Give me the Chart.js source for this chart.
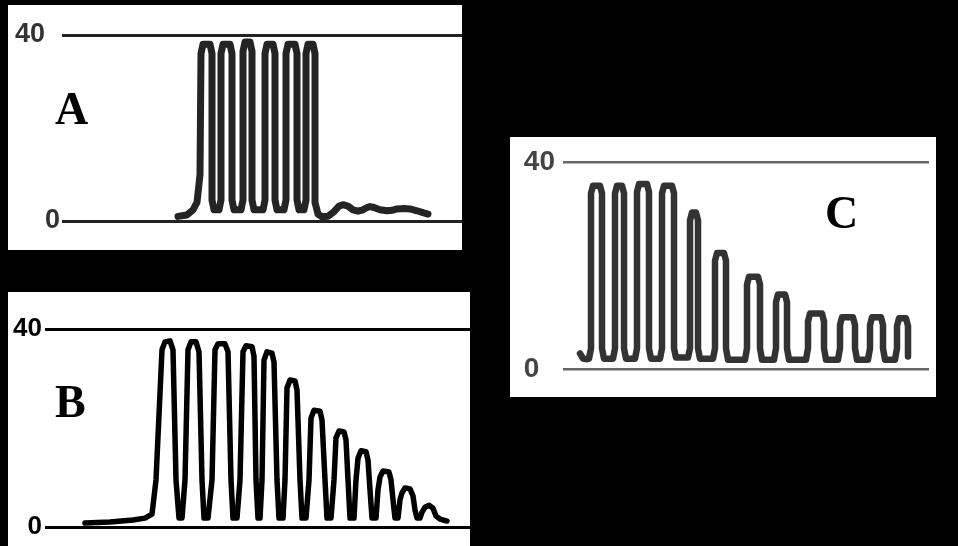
<!DOCTYPE html>
<html>
<head>
<meta charset="utf-8">
<script src="https://cdn.jsdelivr.net/npm/chart.js@4.4.1/dist/chart.umd.min.js"></script>
<style>
  html, body { margin:0; padding:0; background:#000; }
  body { width:958px; height:546px; position:relative; overflow:hidden; }
  .panel { position:absolute; background:#fff; }
  .panel canvas { position:absolute; left:0; top:0; }
  .tag { position:absolute; font-family:'Liberation Serif','Times New Roman',serif; font-weight:bold; font-size:46px; line-height:46px; color:#000; }
</style>
</head>
<body>
<div class="panel" style="left:8px;top:5px;width:454px;height:245px;"><canvas id="cA" width="454" height="245"></canvas></div>
<div class="panel" style="left:8px;top:292px;width:462px;height:254px;"><canvas id="cB" width="462" height="254"></canvas></div>
<div class="panel" style="left:510px;top:137px;width:426px;height:260px;"><canvas id="cC" width="426" height="260"></canvas></div>
<div class="tag" style="left:55px;top:86px;">A</div>
<div class="tag" style="left:55px;top:379px;">B</div>
<div class="tag" style="left:825px;top:190px;">C</div>
<script>
// ---- data ----
const yTicks = [0, 40];
const yTickLabels = ['0', '40'];

// Panel A (time units, pressure values)
const aTime = [116,125,131,135,
  138,139,141,148,150,150, 152,157,
  159,159,161,168,170,170, 172,179,
  181,181,183,188,190,190, 192,201,
  203,203,205,211,213,213, 215,222,
  224,224,226,233,235,235, 237,242,
  244,244,246,251,253,253,
  256,260,266,272,277,281,286,291,296,301,305,308,312,318,325,330,335,342,348,355,361,366];
const aValue = [1.0,1.3,2.4,4.0,
  10,36,38,38,36,4.5, 2.4,2.4,
  4.5,36,38,38,36,4.5, 2.4,2.4,
  4.5,36.5,38.5,38.5,36.5,4.5, 2.4,2.4,
  4.5,36,38,38,36,4.5, 2.4,2.4,
  4.5,36,38,38,36,4.5, 2.4,2.4,
  4.5,36,38,38,36,4.0,
  1.5,0.9,1.0,2.0,3.2,3.5,3.2,2.4,2.1,2.4,2.9,3.1,2.9,2.4,2.2,2.3,2.6,2.7,2.6,2.2,1.8,1.5];

// Panel B
const bTime = [40,65,88,100,107,
  111,117,120,125,128,131,134,137,
  140,143,146,151,154,157,159,163,
  167,170,173,180,183,186,188,192,
  195,198,201,207,209,211,213,215,
  217,219,222,227,229,232,234,238,
  240,242,245,250,252,255,257,261,
  264,266,269,275,277,280,282,286,
  289,291,294,299,301,303,305,309,
  311,313,316,321,323,325,327,331,
  333,335,338,344,346,348,350,353,
  355,357,360,365,368,370,372,375,
  377,380,384,388,391,395,402];
const bValue = [0.8,1.0,1.4,1.8,2.6,
  9.5,35.8,37.4,37.6,35.8,9.5,1.8,1.8,
  9.5,35.8,37.4,37.4,35.4,9.5,1.8,1.8,
  9.5,35.8,37.0,37.0,35.4,9.5,1.8,1.8,
  9.5,35.4,36.6,36.4,34.5,9.5,1.8,1.8,
  9.5,33.7,35.4,35.1,33.3,9.5,1.8,1.8,
  9.5,28.1,29.7,29.5,27.7,9.5,1.8,1.8,
  9.5,22.0,23.6,23.4,21.6,9.5,1.8,1.8,
  9.5,18.0,19.4,19.2,17.6,9.5,1.8,1.8,
  9.5,13.9,15.4,15.2,13.5,7.5,1.8,1.8,
  7.5,10.1,11.3,11.1,9.5,5.5,1.8,1.8,
  5.5,6.9,7.9,7.7,6.3,3.4,1.8,1.8,
  3.0,4.0,4.4,3.8,2.2,1.6,1.2];

// Panel C
const cTime = [17,20,24,26,
  28,28,30,37,39,39, 41,50,
  52,52,54,59,61,61, 63,72,
  74,74,76,84,86,86, 88,97,
  99,99,101,109,111,111, 113,125,
  127,127,129,133,135,135, 137,150,
  152,152,154,161,163,163, 165,182,
  184,184,186,195,197,197, 199,211,
  213,213,215,222,224,224, 226,243,
  245,245,247,259,261,261, 263,275,
  277,277,279,290,292,292, 294,305,
  307,307,309,318,320,320, 322,332,
  334,334,336,343,345,345];
const cValue = [3.0,2.0,1.9,2.0,
  4,33.9,35.4,35.4,33.9,4, 2.0,2.0,
  4,33.9,35.4,35.4,33.9,4, 2.0,2.0,
  4,34.2,35.7,35.7,34.2,4, 2.0,2.0,
  4,33.9,35.4,35.4,33.9,4, 2.2,2.2,
  4,28.7,30.2,30.2,28.7,4, 2.0,2.0,
  4,20.9,22.4,22.4,20.9,4, 1.8,1.8,
  4,16.3,17.8,17.8,16.3,4, 1.8,1.8,
  4,12.9,14.4,14.4,12.9,4, 1.8,1.8,
  4,9.2,10.7,10.7,9.2,4, 1.8,1.8,
  4,8.5,10.0,10.0,8.5,4, 1.8,1.8,
  4,8.5,10.0,10.0,8.5,4, 1.8,1.8,
  4,8.3,9.8,9.8,8.3,2.4];

// ---- chart builder ----
function panelChart(id, times, values, o) {
  const pts = times.map((t, i) => ({ x: t, y: values[i] }));
  return new Chart(document.getElementById(id), {
    type: 'line',
    data: { datasets: [{
      data: pts, borderColor: o.trace, borderWidth: o.traceWidth,
      pointRadius: 0, tension: 0, fill: false, clip: false,
      borderJoinStyle: 'round', borderCapStyle: 'round'
    }]},
    options: {
      responsive: false, animation: false, devicePixelRatio: 1,
      layout: { padding: o.pad },
      plugins: { legend: { display: false }, tooltip: { enabled: false } },
      scales: {
        x: { type: 'linear', display: false, min: 0, max: o.xMax },
        y: {
          min: 0, max: 40,
          afterBuildTicks: s => { s.ticks = yTicks.map(v => ({ value: v })); },
          afterFit: s => { s.width = o.axisW; },
          grid: { color: o.gridColor, lineWidth: o.gridWidth, drawTicks: false },
          border: { display: false },
          ticks: {
            padding: o.tickPad, color: o.labelColor,
            font: { family: 'Liberation Sans', weight: 'bold', size: o.fontSize },
            callback: v => yTickLabels[yTicks.indexOf(v)] + (o.trail[v] || '')
          }
        }
      }
    }
  });
}

panelChart('cA', aTime, aValue, {
  xMax: 400, axisW: 54, pad: { top: 30, bottom: 29, left: 0, right: 0 },
  trace: '#242424', traceWidth: 7, gridColor: '#222', gridWidth: 3,
  labelColor: '#333', fontSize: 27, tickPad: 2, trail: { 40: '  ' }
});
panelChart('cB', bTime, bValue, {
  xMax: 425, axisW: 37, pad: { top: 37, bottom: 19, left: 0, right: 0 },
  trace: '#000', traceWidth: 5.5, gridColor: '#000', gridWidth: 3,
  labelColor: '#000', fontSize: 26, tickPad: 3, trail: {}
});
panelChart('cC', cTime, cValue, {
  xMax: 366, axisW: 53, pad: { top: 17, bottom: 28, left: 0, right: 7 },
  trace: '#333', traceWidth: 6.5, gridColor: '#666', gridWidth: 2.5,
  labelColor: '#444', fontSize: 28, tickPad: 8, trail: { 0: '  ' }
});
</script>
</body>
</html>
